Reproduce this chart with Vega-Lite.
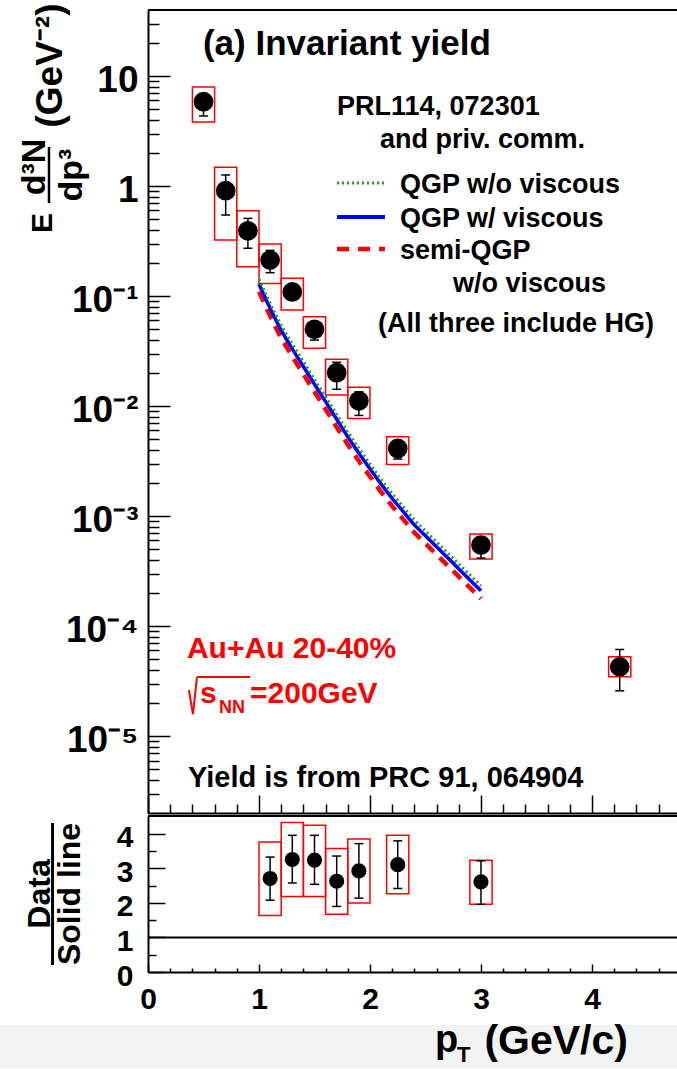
{
  "$schema": "https://vega.github.io/schema/vega-lite/v6.json",
  "padding": {"left": 0, "right": 0, "top": 3, "bottom": 0},
  "background": "white",
  "spacing": 1,
  "config": {
    "view": {"stroke": null},
    "concat": {"spacing": 1},
    "font": "Liberation Sans",
    "axis": {"domainColor": "black", "domainWidth": 2, "tickColor": "black", "tickWidth": 1.5, "grid": false, "labelFont": "Liberation Sans", "labelFontWeight": "bold", "labelColor": "black", "labelOverlap": false, "labelFlush": false, "title": null},
    "text": {"font": "Liberation Sans", "fontWeight": "bold", "color": "black"}
  },
  "datasets": {
    "yield": [
      {"pt": 0.5, "y": 5.84, "elo": 4.33, "ehi": 6.9, "xlo": 0.4, "xhi": 0.6, "ylo": 3.82, "yhi": 7.94},
      {"pt": 0.7, "y": 0.907, "elo": 0.545, "ehi": 1.26, "xlo": 0.6, "xhi": 0.8, "ylo": 0.323, "yhi": 1.48},
      {"pt": 0.9, "y": 0.392, "elo": 0.272, "ehi": 0.508, "xlo": 0.8, "xhi": 1.0, "ylo": 0.1846, "yhi": 0.597},
      {"pt": 1.1, "y": 0.2125, "elo": 0.163, "ehi": 0.26, "xlo": 1.0, "xhi": 1.2, "ylo": 0.13, "yhi": 0.297},
      {"pt": 1.3, "y": 0.109, "elo": 0.095, "ehi": 0.123, "xlo": 1.2, "xhi": 1.4, "ylo": 0.0746, "yhi": 0.145},
      {"pt": 1.5, "y": 0.0498, "elo": 0.0398, "ehi": 0.058, "xlo": 1.4, "xhi": 1.6, "ylo": 0.0335, "yhi": 0.0649},
      {"pt": 1.7, "y": 0.0201, "elo": 0.0142, "ehi": 0.025, "xlo": 1.6, "xhi": 1.8, "ylo": 0.0126, "yhi": 0.0267},
      {"pt": 1.9, "y": 0.01117, "elo": 0.00822, "ehi": 0.0135, "xlo": 1.8, "xhi": 2.0, "ylo": 0.00772, "yhi": 0.0148},
      {"pt": 2.25, "y": 0.00412, "elo": 0.0033, "ehi": 0.0048, "xlo": 2.15, "xhi": 2.35, "ylo": 0.00295, "yhi": 0.00526},
      {"pt": 3.0, "y": 0.000545, "elo": 0.000415, "ehi": 0.00065, "xlo": 2.9, "xhi": 3.1, "ylo": 0.000407, "yhi": 0.000686},
      {"pt": 4.25, "y": 0.0000426, "elo": 0.0000258, "ehi": 0.0000613, "xlo": 4.15, "xhi": 4.35, "ylo": 0.0000346, "yhi": 0.0000526}
    ],
    "ratio": [
      {"pt": 1.1, "r": 2.71, "elo": 2.08, "ehi": 3.33, "xlo": 1.0, "xhi": 1.2, "ylo": 1.64, "yhi": 3.77},
      {"pt": 1.3, "r": 3.26, "elo": 2.58, "ehi": 3.96, "xlo": 1.2, "xhi": 1.4, "ylo": 2.19, "yhi": 4.33},
      {"pt": 1.5, "r": 3.24, "elo": 2.54, "ehi": 3.96, "xlo": 1.4, "xhi": 1.6, "ylo": 2.19, "yhi": 4.25},
      {"pt": 1.7, "r": 2.63, "elo": 1.9, "ehi": 3.36, "xlo": 1.6, "xhi": 1.8, "ylo": 1.67, "yhi": 3.58},
      {"pt": 1.9, "r": 2.93, "elo": 2.14, "ehi": 3.72, "xlo": 1.8, "xhi": 2.0, "ylo": 2.0, "yhi": 3.85},
      {"pt": 2.25, "r": 3.11, "elo": 2.42, "ehi": 3.8, "xlo": 2.15, "xhi": 2.35, "ylo": 2.27, "yhi": 3.96},
      {"pt": 3.0, "r": 2.61, "elo": 1.96, "ehi": 3.22, "xlo": 2.9, "xhi": 3.1, "ylo": 1.96, "yhi": 3.24}
    ],
    "models": [
      {"model": "QGP w/ viscous", "pt": 1.0, "y": 0.1288}, {"model": "QGP w/ viscous", "pt": 1.1, "y": 0.0776},
      {"model": "QGP w/ viscous", "pt": 1.2, "y": 0.049}, {"model": "QGP w/ viscous", "pt": 1.3, "y": 0.0331},
      {"model": "QGP w/ viscous", "pt": 1.4, "y": 0.0229}, {"model": "QGP w/ viscous", "pt": 1.5, "y": 0.0158},
      {"model": "QGP w/ viscous", "pt": 1.6, "y": 0.01096}, {"model": "QGP w/ viscous", "pt": 1.7, "y": 0.00759},
      {"model": "QGP w/ viscous", "pt": 1.8, "y": 0.00525}, {"model": "QGP w/ viscous", "pt": 1.9, "y": 0.00372},
      {"model": "QGP w/ viscous", "pt": 2.0, "y": 0.00269}, {"model": "QGP w/ viscous", "pt": 2.1, "y": 0.00195},
      {"model": "QGP w/ viscous", "pt": 2.2, "y": 0.001445}, {"model": "QGP w/ viscous", "pt": 2.3, "y": 0.001096},
      {"model": "QGP w/ viscous", "pt": 2.4, "y": 0.000832}, {"model": "QGP w/ viscous", "pt": 2.5, "y": 0.000661},
      {"model": "QGP w/ viscous", "pt": 2.6, "y": 0.000525}, {"model": "QGP w/ viscous", "pt": 2.7, "y": 0.000417},
      {"model": "QGP w/ viscous", "pt": 2.8, "y": 0.000331}, {"model": "QGP w/ viscous", "pt": 2.9, "y": 0.000263},
      {"model": "QGP w/ viscous", "pt": 3.0, "y": 0.000209},
      {"model": "QGP w/o viscous", "pt": 1.0, "y": 0.1428}, {"model": "QGP w/o viscous", "pt": 1.1, "y": 0.0861},
      {"model": "QGP w/o viscous", "pt": 1.2, "y": 0.0543}, {"model": "QGP w/o viscous", "pt": 1.3, "y": 0.0367},
      {"model": "QGP w/o viscous", "pt": 1.4, "y": 0.0254}, {"model": "QGP w/o viscous", "pt": 1.5, "y": 0.01752},
      {"model": "QGP w/o viscous", "pt": 1.6, "y": 0.01215}, {"model": "QGP w/o viscous", "pt": 1.7, "y": 0.00842},
      {"model": "QGP w/o viscous", "pt": 1.8, "y": 0.00582}, {"model": "QGP w/o viscous", "pt": 1.9, "y": 0.00413},
      {"model": "QGP w/o viscous", "pt": 2.0, "y": 0.00298}, {"model": "QGP w/o viscous", "pt": 2.1, "y": 0.00216},
      {"model": "QGP w/o viscous", "pt": 2.2, "y": 0.001603}, {"model": "QGP w/o viscous", "pt": 2.3, "y": 0.001215},
      {"model": "QGP w/o viscous", "pt": 2.4, "y": 0.000923}, {"model": "QGP w/o viscous", "pt": 2.5, "y": 0.000733},
      {"model": "QGP w/o viscous", "pt": 2.6, "y": 0.000582}, {"model": "QGP w/o viscous", "pt": 2.7, "y": 0.000462},
      {"model": "QGP w/o viscous", "pt": 2.8, "y": 0.000367}, {"model": "QGP w/o viscous", "pt": 2.9, "y": 0.000292},
      {"model": "QGP w/o viscous", "pt": 3.0, "y": 0.000232},
      {"model": "semi-QGP w/o viscous", "pt": 1.0, "y": 0.1096}, {"model": "semi-QGP w/o viscous", "pt": 1.1, "y": 0.0661},
      {"model": "semi-QGP w/o viscous", "pt": 1.2, "y": 0.0417}, {"model": "semi-QGP w/o viscous", "pt": 1.3, "y": 0.0282},
      {"model": "semi-QGP w/o viscous", "pt": 1.4, "y": 0.0195}, {"model": "semi-QGP w/o viscous", "pt": 1.5, "y": 0.0135},
      {"model": "semi-QGP w/o viscous", "pt": 1.6, "y": 0.00933}, {"model": "semi-QGP w/o viscous", "pt": 1.7, "y": 0.00646},
      {"model": "semi-QGP w/o viscous", "pt": 1.8, "y": 0.00447}, {"model": "semi-QGP w/o viscous", "pt": 1.9, "y": 0.00316},
      {"model": "semi-QGP w/o viscous", "pt": 2.0, "y": 0.00229}, {"model": "semi-QGP w/o viscous", "pt": 2.1, "y": 0.00166},
      {"model": "semi-QGP w/o viscous", "pt": 2.2, "y": 0.00123}, {"model": "semi-QGP w/o viscous", "pt": 2.3, "y": 0.000933},
      {"model": "semi-QGP w/o viscous", "pt": 2.4, "y": 0.000708}, {"model": "semi-QGP w/o viscous", "pt": 2.5, "y": 0.000562},
      {"model": "semi-QGP w/o viscous", "pt": 2.6, "y": 0.000447}, {"model": "semi-QGP w/o viscous", "pt": 2.7, "y": 0.000355},
      {"model": "semi-QGP w/o viscous", "pt": 2.8, "y": 0.000282}, {"model": "semi-QGP w/o viscous", "pt": 2.9, "y": 0.000224},
      {"model": "semi-QGP w/o viscous", "pt": 3.0, "y": 0.000178}
    ]
  },
  "vconcat": [
    {
      "width": 529,
      "height": 803,
      "data": {"values": [{}]},
      "resolve": {"axis": {"x": "independent", "y": "independent"}},
      "layer": [
        {
          "layer": [
            {
              "data": {"name": "yield"},
              "mark": {"type": "rect", "fill": "transparent", "stroke": "#ff0000", "strokeWidth": 1.5},
              "encoding": {
                "x": {"field": "xlo", "type": "quantitative", "scale": {"domain": [0, 4.766], "nice": false, "zero": false},
                  "axis": {"orient": "bottom", "labels": false, "ticks": false, "values": [0, 1, 2, 3, 4]}},
                "x2": {"field": "xhi"},
                "y": {"field": "ylo", "type": "quantitative", "scale": {"type": "log", "domain": [0.000002, 39.81], "nice": false},
                  "axis": {"orient": "left", "labelFontSize": 37, "ticks": false, "labelPadding": 10, "labelOffset": 4, "labelOverlap": false,
                    "values": [0.00001, 0.0001, 0.001, 0.01, 0.1, 1, 10],
                    "labelExpr": "datum.value == 10 ? '10' : datum.value == 1 ? '1' : datum.value == 0.1 ? '10⁻¹' : datum.value == 0.01 ? '10⁻²' : datum.value == 0.001 ? '10⁻³' : datum.value == 0.0001 ? '10⁻⁴' : '10⁻⁵'"}},
                "y2": {"field": "yhi"}
              }
            },
            {
              "data": {"name": "models"},
              "transform": [{"filter": "datum.model == 'semi-QGP w/o viscous'"}],
              "mark": {"type": "line", "color": "#ff0000", "strokeWidth": 4.5, "strokeDash": [11, 8], "strokeCap": "butt", "interpolate": "monotone"},
              "encoding": {"x": {"field": "pt", "type": "quantitative"}, "y": {"field": "y", "type": "quantitative"}}
            },
            {
              "data": {"name": "models"},
              "transform": [{"filter": "datum.model == 'QGP w/ viscous'"}],
              "mark": {"type": "line", "color": "#0000ff", "strokeWidth": 3.5, "interpolate": "monotone"},
              "encoding": {"x": {"field": "pt", "type": "quantitative"}, "y": {"field": "y", "type": "quantitative"}}
            },
            {
              "data": {"name": "models"},
              "transform": [{"filter": "datum.model == 'QGP w/o viscous'"}],
              "mark": {"type": "line", "color": "#1f9e1f", "strokeWidth": 3, "strokeDash": [2, 3], "strokeCap": "butt", "interpolate": "monotone"},
              "encoding": {"x": {"field": "pt", "type": "quantitative"}, "y": {"field": "y", "type": "quantitative"}}
            },
            {
              "data": {"name": "yield"},
              "mark": {"type": "rule", "color": "black", "strokeWidth": 1.5},
              "encoding": {"x": {"field": "pt", "type": "quantitative"}, "y": {"field": "elo", "type": "quantitative"}, "y2": {"field": "ehi"}}
            },
            {
              "data": {"name": "yield"},
              "transform": [{"fold": ["elo", "ehi"], "as": ["end", "val"]}],
              "mark": {"type": "tick", "orient": "horizontal", "size": 9, "thickness": 1.5, "color": "black", "opacity": 1},
              "encoding": {"x": {"field": "pt", "type": "quantitative"}, "y": {"field": "val", "type": "quantitative"}}
            },
            {
              "data": {"name": "yield"},
              "mark": {"type": "circle", "size": 390, "color": "black", "opacity": 1},
              "encoding": {"x": {"field": "pt", "type": "quantitative"}, "y": {"field": "y", "type": "quantitative"}}
            },
            {"mark": {"type": "rule", "color": "black", "strokeWidth": 2}, "encoding": {"y": {"datum": 39.81}}},
            {"mark": {"type": "text", "text": "(a) Invariant yield", "fontSize": 35, "align": "left", "baseline": "alphabetic"}, "encoding": {"x": {"datum": 0.495}, "y": {"datum": 15.5}}},
            {"mark": {"type": "text", "text": "and priv. comm.", "fontSize": 27, "align": "left", "baseline": "alphabetic"}, "encoding": {"x": {"datum": 2.09}, "y": {"datum": 2.21}}},
            {"mark": {"type": "text", "text": "QGP w/o viscous", "fontSize": 27, "align": "left", "baseline": "alphabetic"}, "encoding": {"x": {"datum": 2.27}, "y": {"datum": 0.863}}},
            {"mark": {"type": "text", "text": "QGP w/ viscous", "fontSize": 27, "align": "left", "baseline": "alphabetic"}, "encoding": {"x": {"datum": 2.27}, "y": {"datum": 0.424}}},
            {"mark": {"type": "text", "text": "semi-QGP", "fontSize": 27, "align": "left", "baseline": "alphabetic"}, "encoding": {"x": {"datum": 2.27}, "y": {"datum": 0.217}}},
            {"mark": {"type": "text", "text": "w/o viscous", "fontSize": 27, "align": "left", "baseline": "alphabetic"}, "encoding": {"x": {"datum": 2.748}, "y": {"datum": 0.1087}}},
            {"mark": {"type": "text", "text": "(All three include HG)", "fontSize": 27, "align": "left", "baseline": "alphabetic"}, "encoding": {"x": {"datum": 2.072}, "y": {"datum": 0.0471}}},
            {"mark": {"type": "rule", "color": "#1f9e1f", "strokeWidth": 3, "strokeDash": [2, 3], "strokeCap": "butt"}, "encoding": {"x": {"datum": 1.703}, "x2": {"datum": 2.135}, "y": {"datum": 1.065}}},
            {"mark": {"type": "rule", "color": "#0000ff", "strokeWidth": 4}, "encoding": {"x": {"datum": 1.703}, "x2": {"datum": 2.135}, "y": {"datum": 0.5224}}},
            {"mark": {"type": "rule", "color": "#ff0000", "strokeWidth": 4.5, "strokeDash": [12, 9], "strokeCap": "butt"}, "encoding": {"x": {"datum": 1.703}, "x2": {"datum": 2.135}, "y": {"datum": 0.2675}}},
            {"mark": {"type": "text", "text": "Au+Au 20-40%", "fontSize": 30, "align": "left", "baseline": "alphabetic", "color": "#ff0000"}, "encoding": {"x": {"datum": 0.351}, "y": {"datum": 0.0000512}}},
            {"mark": {"type": "rule", "color": "#ff0000", "strokeWidth": 2}, "encoding": {"x": {"datum": 0.369}, "x2": {"datum": 0.405}, "y": {"datum": 0.00002619}, "y2": {"datum": 0.00001585}}},
            {"mark": {"type": "rule", "color": "#ff0000", "strokeWidth": 2}, "encoding": {"x": {"datum": 0.405}, "x2": {"datum": 0.441}, "y": {"datum": 0.00001585}, "y2": {"datum": 0.00003439}}},
            {"mark": {"type": "rule", "color": "#ff0000", "strokeWidth": 2}, "encoding": {"x": {"datum": 0.441}, "x2": {"datum": 0.919}, "y": {"datum": 0.00003439}}},
            {"mark": {"type": "text", "text": "s", "fontSize": 30, "align": "left", "baseline": "alphabetic", "color": "#ff0000"}, "encoding": {"x": {"datum": 0.468}, "y": {"datum": 0.00001995}}},
            {"mark": {"type": "text", "text": "NN", "fontSize": 18, "align": "left", "baseline": "alphabetic", "color": "#ff0000"}, "encoding": {"x": {"datum": 0.64}, "y": {"datum": 0.00001618}}},
            {"mark": {"type": "text", "text": "=200GeV", "fontSize": 30, "align": "left", "baseline": "alphabetic", "color": "#ff0000"}, "encoding": {"x": {"datum": 0.919}, "y": {"datum": 0.00001995}}},
            {"mark": {"type": "text", "text": "Yield is from PRC 91, 064904", "fontSize": 29, "align": "left", "baseline": "alphabetic"}, "encoding": {"x": {"datum": 0.36}, "y": {"datum": 0.00000344}}},
            {"mark": {"type": "text", "text": "E", "fontSize": 30, "angle": -90, "align": "center", "baseline": "alphabetic"}, "encoding": {"x": {"datum": -0.865}, "y": {"datum": 0.461}}},
            {"mark": {"type": "text", "text": "d³N", "fontSize": 34, "angle": -90, "align": "center", "baseline": "alphabetic"}, "encoding": {"x": {"datum": -0.928}, "y": {"datum": 1.489}}},
            {"mark": {"type": "text", "text": "dp³", "fontSize": 34, "angle": -90, "align": "center", "baseline": "alphabetic"}, "encoding": {"x": {"datum": -0.595}, "y": {"datum": 1.259}}},
            {"mark": {"type": "rule", "color": "black", "strokeWidth": 2.5}, "encoding": {"x": {"datum": -0.892}, "y": {"datum": 2.264}, "y2": {"datum": 0.7}}},
            {"mark": {"type": "text", "text": "(GeV⁻²)", "fontSize": 37, "angle": -90, "align": "center", "baseline": "alphabetic"}, "encoding": {"x": {"datum": -0.775}, "y": {"datum": 12.46}}}
          ]
        },
        {
          "mark": {"type": "text", "text": "PRL114, 072301", "fontSize": 27, "align": "left", "baseline": "alphabetic"},
          "encoding": {
            "x": {"datum": 1.703, "type": "quantitative", "axis": {"orient": "bottom", "labels": false, "domain": false, "tickSize": -18, "values": [0, 1, 2, 3, 4]}},
            "y": {"datum": 4.42, "type": "quantitative", "axis": {"orient": "left", "labels": false, "domain": false, "tickSize": -22, "values": [0.00001, 0.0001, 0.001, 0.01, 0.1, 1, 10]}}
          }
        },
        {
          "mark": {"type": "text", "text": "", "fontSize": 1},
          "encoding": {
            "x": {"datum": 1.703, "type": "quantitative", "axis": {"orient": "bottom", "labels": false, "domain": false, "tickSize": -9,
              "values": [0.2,0.4,0.6,0.8,1.2,1.4,1.6,1.8,2.2,2.4,2.6,2.8,3.2,3.4,3.6,3.8,4.2,4.4,4.6]}},
            "y": {"datum": 4.42, "type": "quantitative", "axis": {"orient": "left", "labels": false, "domain": false, "tickSize": -11,
              "values": [0.000003,0.000004,0.000005,0.000006,0.000007,0.000008,0.000009,0.00002,0.00003,0.00004,0.00005,0.00006,0.00007,0.00008,0.00009,0.0002,0.0003,0.0004,0.0005,0.0006,0.0007,0.0008,0.0009,0.002,0.003,0.004,0.005,0.006,0.007,0.008,0.009,0.02,0.03,0.04,0.05,0.06,0.07,0.08,0.09,0.2,0.3,0.4,0.5,0.6,0.7,0.8,0.9,2,3,4,5,6,7,8,9,20,30]}}
          }
        }
      ]
    },
    {
      "width": 529,
      "height": 156,
      "data": {"values": [{}]},
      "resolve": {"axis": {"x": "independent", "y": "independent"}},
      "layer": [
        {
          "layer": [
            {
              "data": {"name": "ratio"},
              "mark": {"type": "rect", "fill": "transparent", "stroke": "#ff0000", "strokeWidth": 1.5},
              "encoding": {
                "x": {"field": "xlo", "type": "quantitative", "scale": {"domain": [0, 4.766], "nice": false, "zero": false},
                  "axis": {"orient": "bottom", "labelFontSize": 30, "ticks": false, "labelPadding": 12, "labelOverlap": false, "values": [0, 1, 2, 3, 4], "format": "d"}},
                "x2": {"field": "xhi"},
                "y": {"field": "ylo", "type": "quantitative", "scale": {"domain": [0, 4.52], "nice": false, "zero": false},
                  "axis": {"orient": "left", "labelFontSize": 30, "ticks": false, "labelPadding": 15, "labelOffset": 4, "labelOverlap": false, "values": [0, 2, 4], "format": "d"}},
                "y2": {"field": "yhi"}
              }
            },
            {"mark": {"type": "rect", "color": "#f3f3f3"}, "encoding": {"x": {"datum": -1.3333}, "x2": {"datum": 4.766}, "y": {"datum": -1.536}, "y2": {"datum": -2.782}}},
            {"mark": {"type": "rule", "color": "black", "strokeWidth": 2}, "encoding": {"y": {"datum": 1}}},
            {"mark": {"type": "rule", "color": "black", "strokeWidth": 2}, "encoding": {"y": {"datum": 4.52}}},
            {
              "data": {"name": "ratio"},
              "mark": {"type": "rule", "color": "black", "strokeWidth": 1.5},
              "encoding": {"x": {"field": "pt", "type": "quantitative"}, "y": {"field": "elo", "type": "quantitative"}, "y2": {"field": "ehi"}}
            },
            {
              "data": {"name": "ratio"},
              "transform": [{"fold": ["elo", "ehi"], "as": ["end", "val"]}],
              "mark": {"type": "tick", "orient": "horizontal", "size": 9, "thickness": 1.5, "color": "black", "opacity": 1},
              "encoding": {"x": {"field": "pt", "type": "quantitative"}, "y": {"field": "val", "type": "quantitative"}}
            },
            {
              "data": {"name": "ratio"},
              "mark": {"type": "circle", "size": 230, "color": "black", "opacity": 1},
              "encoding": {"x": {"field": "pt", "type": "quantitative"}, "y": {"field": "r", "type": "quantitative"}}
            },
            {"mark": {"type": "rule", "color": "black", "strokeWidth": 3}, "encoding": {"x": {"datum": -0.86}, "y": {"datum": 4.318}, "y2": {"datum": 0.203}}},
            {"mark": {"type": "text", "text": "T", "fontSize": 22, "align": "left", "baseline": "alphabetic"}, "encoding": {"x": {"datum": 2.784}, "y": {"datum": -2.608}}},
            {"mark": {"type": "text", "text": "(GeV/c)", "fontSize": 41, "align": "right", "baseline": "alphabetic"}, "encoding": {"x": {"datum": 4.324}, "y": {"datum": -2.376}}}
          ]
        },
        {
          "mark": {"type": "text", "text": "Data", "fontSize": 32, "angle": -90, "align": "center", "baseline": "alphabetic"},
          "encoding": {
            "x": {"datum": -0.883, "type": "quantitative", "axis": {"orient": "bottom", "labels": false, "domain": false, "tickSize": -8, "values": [0, 1, 2, 3, 4]}},
            "y": {"datum": 2.26, "type": "quantitative", "axis": {"orient": "left", "labels": false, "domain": false, "tickSize": -17, "values": [0, 1, 2, 3, 4]}}
          }
        },
        {
          "mark": {"type": "text", "text": "Solid line", "fontSize": 32, "angle": -90, "align": "center", "baseline": "alphabetic"},
          "encoding": {
            "x": {"datum": -0.613, "type": "quantitative", "axis": {"orient": "bottom", "labels": false, "domain": false, "tickSize": -4,
              "values": [0.2,0.4,0.6,0.8,1.2,1.4,1.6,1.8,2.2,2.4,2.6,2.8,3.2,3.4,3.6,3.8,4.2,4.4,4.6]}},
            "y": {"datum": 2.26, "type": "quantitative", "axis": {"orient": "left", "labels": false, "domain": false, "tickSize": -8,
              "values": [0.5, 1.5, 2.5, 3.5]}}
          }
        },
        {
          "mark": {"type": "text", "text": "p", "fontSize": 38, "align": "left", "baseline": "alphabetic"},
          "encoding": {
            "x": {"datum": 2.586, "type": "quantitative", "axis": null},
            "y": {"datum": -2.319, "type": "quantitative", "axis": {"orient": "left", "ticks": false, "domain": false, "labelFontSize": 30, "labelPadding": 15, "labelOffset": 4, "labelOverlap": false, "values": [1, 3], "format": "d"}}
          }
        }
      ]
    }
  ]
}
